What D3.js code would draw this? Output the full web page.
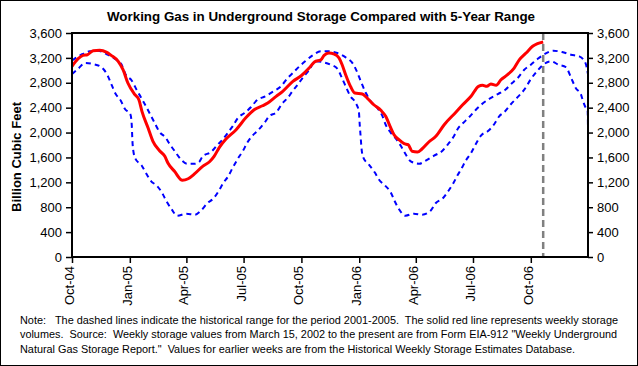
<!DOCTYPE html>
<html>
<head>
<meta charset="utf-8">
<script src="https://cdn.jsdelivr.net/npm/d3@7/dist/d3.min.js"></script>
<style>
  html, body { margin: 0; padding: 0; background: #fff; }
  svg { display: block; }
  text { font-family: "Liberation Sans", Arial, Helvetica, sans-serif; fill: #000; }
</style>
</head>
<body>
<svg id="chart" width="638" height="366"></svg>
<script>
// ---- Data (x = weeks after 1 Oct 2004, y = billion cubic feet) ----
const startDate = "2004-10-01";
const endDate = "2006-12-31";

// Weekly working gas in storage (solid red line)
const storage = [[0,3065],[1.4,3187],[2.5,3241],[3.5,3251],[4.8,3315],[6.3,3321],[7.8,3294],[8.9,3241],[10.5,3145],[11.6,3010],[12.7,2796],[14.3,2608],[15.2,2528],[15.9,2341],[17.3,2073],[18.4,1859],[19.9,1708],[21.1,1618],[21.8,1511],[23.3,1377],[25.1,1232],[26.4,1258],[27.9,1339],[29.7,1457],[31.2,1527],[32.3,1618],[33.5,1763],[35,1896],[37.3,2046],[39.6,2245],[41.4,2367],[43.3,2431],[44.5,2475],[46.4,2582],[47.9,2663],[50.2,2823],[52.1,2913],[53.9,3037],[55.1,3134],[56.6,3171],[57.3,3241],[58.4,3278],[59.6,3262],[60.7,3198],[61.4,3090],[62.2,2930],[63.3,2743],[64.3,2635],[66,2619],[67.1,2555],[68.6,2447],[70.2,2357],[71.3,2261],[72.3,2100],[73.2,1965],[74.3,1885],[75.5,1821],[76.4,1805],[77.3,1699],[78.5,1687],[79.6,1740],[81.1,1848],[82.7,1940],[84.6,2126],[87.3,2330],[88.8,2447],[90.7,2582],[92.4,2743],[93.3,2759],[94.3,2743],[95.2,2780],[96.4,2759],[97.5,2849],[99,2930],[100.5,3037],[101.7,3171],[103.2,3278],[104.7,3386],[105.8,3428],[107.1,3455]];

// 5-year range maximum (upper dashed line)
const rangeMax = [[0,3160],[2.1,3251],[4,3305],[5.9,3315],[7.8,3262],[9.7,3187],[11.2,3101],[12.1,2946],[13.6,2833],[14.8,2673],[15.9,2539],[16.9,2410],[18.8,2153],[19.9,2009],[21.2,1924],[22.3,1805],[23.5,1687],[24.8,1564],[26.2,1499],[27.9,1499],[28.9,1527],[29.7,1618],[31.6,1687],[33.1,1805],[34.2,1885],[35.4,1993],[36.5,2100],[37.7,2234],[39.2,2314],[40.7,2410],[42,2518],[43.9,2582],[45.8,2663],[47.5,2743],[49,2876],[50.2,2957],[51.7,3065],[53,3145],[54.7,3241],[56.6,3305],[58.4,3305],[60.3,3278],[62.2,3209],[63.9,3101],[64.8,2973],[65.8,2796],[66.8,2635],[67.9,2502],[69.4,2395],[70.5,2277],[71.3,2126],[72.4,2004],[73.8,1885],[74.8,1779],[75.8,1655],[77,1538],[78.9,1499],[80.4,1548],[82.3,1628],[84.2,1708],[85.5,1816],[86.8,1940],[87.7,2062],[88.9,2153],[90.3,2250],[91.8,2367],[93,2447],[94.8,2539],[96.8,2619],[98.5,2689],[99.8,2780],[101.3,2876],[102.8,3010],[104.3,3090],[105.8,3182],[107.6,3267],[109.4,3315],[111.4,3294],[113.4,3251],[115.3,3225],[116.7,3120],[117.3,2930]];

// 5-year range minimum (lower dashed line)
const rangeMin = [[0,2941],[1.4,3026],[3,3118],[4.8,3101],[6.7,3049],[8,2930],[8.9,2785],[9.9,2624],[11.1,2512],[12,2383],[13.3,2287],[13.6,2100],[13.7,1912],[13.9,1724],[14.4,1580],[15.8,1474],[16.9,1339],[18,1217],[19.2,1152],[20.5,1028],[21.4,905],[22.7,760],[23.9,664],[26,696],[27.9,680],[29.5,760],[30.8,868],[32.1,937],[33.3,1056],[34.4,1189],[35.5,1297],[36.5,1430],[37.7,1580],[38.8,1699],[39.8,1832],[41.1,1956],[42.2,2030],[43.7,2153],[44.8,2261],[46.5,2330],[47.7,2459],[49,2555],[50.2,2673],[51.3,2769],[52.4,2876],[53.8,2994],[55.3,3145],[56.8,3134],[58.8,3090],[60.3,3026],[61.3,2888],[62.2,2743],[63.3,2582],[64.5,2475],[65.2,2341],[65.4,2126],[65.6,1940],[65.8,1752],[66.2,1602],[67.5,1483],[68.8,1361],[69.8,1242],[71.1,1152],[72.4,1045],[73.3,905],[74.3,771],[75.8,664],[77.7,696],[79.6,680],[81.5,744],[82.7,868],[84.2,937],[85.5,1056],[86.7,1189],[87.7,1323],[88.4,1403],[89.5,1548],[90.7,1671],[91.7,1805],[93,1956],[94.5,2020],[96,2137],[97.1,2261],[98.3,2330],[99.8,2459],[101.1,2555],[102.8,2689],[104.3,2860],[105.8,2994],[107.3,3101],[108.9,3145],[110.6,3090],[112.3,3049],[113.4,2888],[114.5,2716],[115.7,2608],[116.2,2496],[116.8,2394],[117.2,2362],[117.3,1990]];

const yTicks = [0, 400, 800, 1200, 1600, 2000, 2400, 2800, 3200, 3600];
const xTickDates = ["2004-10-01","2005-01-01","2005-04-01","2005-07-01","2005-10-01","2006-01-01","2006-04-01","2006-07-01","2006-10-01"];

const titleText = "Working Gas in Underground Storage Compared with 5-Year Range";
const yLabelText = "Billion Cubic Feet";
const noteLines = [
  "Note:   The dashed lines indicate the historical range for the period 2001-2005.  The solid red line represents weekly storage",
  "volumes.  Source:  Weekly storage values from March 15, 2002 to the present are from Form EIA-912 \"Weekly Underground",
  "Natural Gas Storage Report.\"  Values for earlier weeks are from the Historical Weekly Storage Estimates Database."
];

// ---- Layout ----
const W = 638, H = 366;
const plot = { left: 72, right: 588, top: 33, bottom: 257 };

const parse = d3.timeParse("%Y-%m-%d");
const t0 = parse(startDate);
const weekToDate = w => new Date(t0.getTime() + w * 7 * 86400000);

const x = d3.scaleTime().domain([t0, parse(endDate)]).range([plot.left, plot.right]);
const y = d3.scaleLinear().domain([0, 3600]).range([plot.bottom, plot.top]);

const svg = d3.select("#chart");

// background + outer border
svg.append("rect").attr("x", 0.5).attr("y", 0.5).attr("width", W - 1).attr("height", H - 1)
  .attr("fill", "#fff").attr("stroke", "#000").attr("stroke-width", 1);

// title
svg.append("text").attr("x", 321).attr("y", 21).attr("text-anchor", "middle")
  .attr("textLength", 428).attr("lengthAdjust", "spacingAndGlyphs")
  .style("font-size", "13px").style("font-weight", "bold").text(titleText);

// clip
svg.append("clipPath").attr("id", "plotclip").append("rect")
  .attr("x", plot.left).attr("y", plot.top - 2).attr("width", plot.right - plot.left).attr("height", plot.bottom - plot.top + 2);

const line = d3.line()
  .x(d => x(weekToDate(d[0])))
  .y(d => y(d[1]))
  .curve(d3.curveMonotoneX);

const g = svg.append("g").attr("clip-path", "url(#plotclip)");

[rangeMax, rangeMin].forEach(series => {
  g.append("path").datum(series).attr("d", line)
    .attr("fill", "none").attr("stroke", "#0000ff").attr("stroke-width", 2)
    .attr("stroke-dasharray", "5,4");
});

// current-week marker (gray dashed vertical line at last storage week)
const lastX = x(weekToDate(storage[storage.length - 1][0]));
svg.append("line").attr("x1", lastX).attr("x2", lastX).attr("y1", plot.top).attr("y2", plot.bottom)
  .attr("stroke", "#808080").attr("stroke-width", 2.5).attr("stroke-dasharray", "7,4");

g.append("path").datum(storage).attr("d", line)
  .attr("fill", "none").attr("stroke", "#ff0000").attr("stroke-width", 3)
  .attr("stroke-linejoin", "round");

// axes
const fmt = d3.format(",");
const leftAxis = svg.append("g").attr("transform", `translate(${plot.left},0)`)
  .call(d3.axisLeft(y).tickValues(yTicks).tickFormat(fmt).tickSize(6).tickPadding(4));
const rightAxis = svg.append("g").attr("transform", `translate(${plot.right},0)`)
  .call(d3.axisRight(y).tickValues(yTicks).tickFormat(fmt).tickSize(5).tickPadding(4));
const bottomAxis = svg.append("g").attr("transform", `translate(0,${plot.bottom})`)
  .call(d3.axisBottom(x).tickValues(xTickDates.map(parse)).tickFormat(d3.timeFormat("%b-%y")).tickSize(6));

[leftAxis, rightAxis, bottomAxis].forEach(a => {
  a.select(".domain").remove();
  a.selectAll(".tick line").attr("stroke", "#000").attr("stroke-width", 1.5);
  a.selectAll("text").style("font-size", "13px").attr("fill", "#000");
});

bottomAxis.selectAll(".tick text")
  .attr("text-anchor", "end")
  .attr("dy", null)
  .attr("y", null)
  .attr("transform", "translate(1.5,9) rotate(-90)")
  .attr("x", 0);

// plot border
svg.append("rect").attr("x", plot.left).attr("y", plot.top)
  .attr("width", plot.right - plot.left).attr("height", plot.bottom - plot.top)
  .attr("fill", "none").attr("stroke", "#000").attr("stroke-width", 2);

// y label
svg.append("text").attr("transform", "translate(20.5,157) rotate(-90)")
  .attr("text-anchor", "middle").style("font-size", "13px").style("font-weight", "bold")
  .attr("textLength", 110).attr("lengthAdjust", "spacingAndGlyphs")
  .text(yLabelText);

// note
const noteY = [323.5, 338, 352.5];
const noteLen = [598, 597, 555];
noteLines.forEach((s, i) => {
  svg.append("text").attr("x", 20).attr("y", noteY[i])
    .attr("textLength", noteLen[i]).attr("lengthAdjust", "spacingAndGlyphs")
    .style("font-size", "11px").style("white-space", "pre").text(s);
});
</script>
</body>
</html>
